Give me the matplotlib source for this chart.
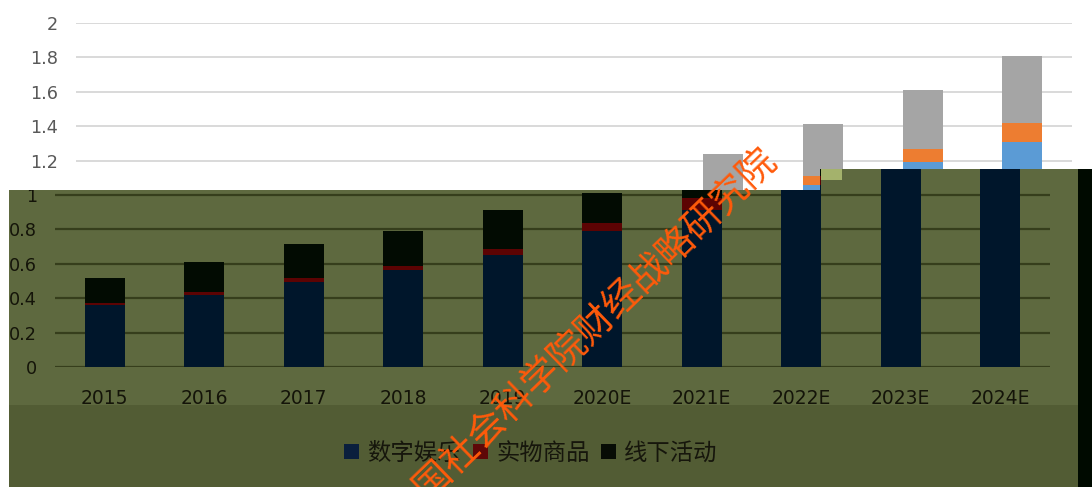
import matplotlib.pyplot as plt
from matplotlib.patches import Polygon, Rectangle, Patch
from matplotlib.transforms import Bbox, TransformedBbox

plt.rcParams['font.family'] = ['DejaVu Sans', 'Noto Sans CJK SC']

# data (stacked values)
years = ["2015", "2016", "2017", "2018", "2019", "2020E", "2021E", "2022E", "2023E", "2024E"]
digital = [0.36, 0.42, 0.495, 0.565, 0.65, 0.79, 0.91, 1.06, 1.19, 1.31]
physical = [0.015, 0.015, 0.025, 0.025, 0.035, 0.045, 0.07, 0.05, 0.075, 0.11]
offline = [0.145, 0.175, 0.195, 0.20, 0.23, 0.175, 0.26, 0.30, 0.345, 0.39]
series_names = ["数字娱乐", "实物商品", "线下活动"]
yticks_full = [0, 0.2, 0.4, 0.6, 0.8, 1, 1.2, 1.4, 1.6, 1.8, 2]
yticks_low = [0, 0.2, 0.4, 0.6, 0.8, 1]
watermark = "中国社会科学院财经战略研究院"

W, H = 1092, 487
LIGHT = ["#5B9BD5", "#ED7D31", "#A5A5A5"]      # plain chart
DARK = ["#00162b", "#5c0303", "#020b02"]       # same chart under the olive tint
OLIVE = "#5e693f"
OLIVE_LOW = "#525c34"


def fx(px):
    return px / W


def fy(py):
    return 1 - py / H


def stack(ax, colors, clip=None):
    x = range(len(years))
    bottom = [0.0] * len(years)
    for vals, c in zip([digital, physical, offline], colors):
        bars = ax.bar(x, vals, width=0.4, bottom=bottom, color=c, zorder=2)
        if clip is not None:
            for b in bars:
                b.set_clip_path(clip)
        bottom = [b + v for b, v in zip(bottom, vals)]


fig = plt.figure(figsize=(W / 100, H / 100), dpi=100)
fig.patch.set_facecolor("white")

# --- the plain chart underneath (its lower labels sit under the tint) ---
ax1 = fig.add_axes([fx(76), fy(367), (1072 - 76) / W, 344 / H])
ax1.set_zorder(0)
stack(ax1, LIGHT)
ax1.set_xlim(-0.5, 9.5)
ax1.set_ylim(0, 2)
ax1.set_yticks(yticks_full, [f"{v:g}" if v > 1 else "" for v in yticks_full])
ax1.set_xticks([])
ax1.grid(axis="y", color="#d9d9d9", lw=1.4, zorder=0)
ax1.tick_params(axis="y", length=0, pad=13, labelsize=12.7, labelcolor="#595959")
for s in ax1.spines.values():
    s.set_visible(False)

# --- olive tint block ---
olive_verts = [(fx(9), fy(190)), (fx(820), fy(190)), (fx(820), fy(169)),
               (fx(1078), fy(169)), (fx(1078), fy(487)), (fx(9), fy(487))]
fig.add_artist(Polygon(olive_verts, closed=True, transform=fig.transFigure,
                       facecolor=OLIVE, edgecolor="none", zorder=1))
fig.add_artist(Rectangle((fx(9), fy(487)), fx(1078) - fx(9), fy(405) - fy(487),
                         transform=fig.transFigure, facecolor=OLIVE_LOW,
                         edgecolor="none", zorder=1))
clip_poly = Polygon(olive_verts, closed=True, transform=fig.transFigure)

# --- the tinted copy, shifted left ---
ax2 = fig.add_axes([fx(55), fy(367), (1050 - 55) / W, 344 / H])
ax2.set_zorder(2)
ax2.patch.set_visible(False)
stack(ax2, DARK, clip=clip_poly)
ax2.set_xlim(-0.5, 9.5)
ax2.set_ylim(0, 2)
ax2.set_yticks(yticks_low, [f"{v:g}" for v in yticks_low])
ax2.set_xticks(range(len(years)), years)
ax2.grid(axis="y", color="#363e1c", lw=1.6, zorder=0)
ax2.tick_params(axis="y", length=0, pad=13, labelsize=12.7, labelcolor="#141409")
ax2.tick_params(axis="x", length=0, pad=15.5, labelsize=13.5, labelcolor="#141409")
for s in ax2.spines.values():
    s.set_visible(False)
tint_box = TransformedBbox(Bbox([[fx(9), 0], [fx(1078), fy(190)]]), fig.transFigure)
for lbl in ax2.get_yticklabels():
    lbl.set_clip_box(tint_box)

# dark strip at the right and a tinted sliver of the 2022E bar
fig.add_artist(Rectangle((fx(1078), 0), 1 - fx(1078), fy(169), transform=fig.transFigure,
                         facecolor="#000a00", edgecolor="none", zorder=3))
fig.add_artist(Rectangle((fx(821), fy(180)), fx(842) - fx(821), fy(169) - fy(180),
                         transform=fig.transFigure, facecolor="#a4b26c",
                         edgecolor="none", zorder=3))

handles = [Patch(facecolor=c, edgecolor="none") for c in ["#0a1f3d", "#5e0808", "#070c05"]]
fig.legend(handles, series_names, loc="center", bbox_to_anchor=(fx(531), fy(453)),
           ncol=3, frameon=False, prop={"family": "Noto Sans CJK SC", "size": 16.8},
           handlelength=0.65, handleheight=0.65, handletextpad=0.35,
           columnspacing=0.5, labelcolor="#16160c")

fig.text(fx(581), fy(336), watermark, rotation=44, rotation_mode="anchor",
         ha="center", va="center", fontsize=27, color="#ff5a0a",
         family="Noto Sans CJK SC", zorder=6)

fig.savefig("out.png", dpi=100, facecolor="white")
